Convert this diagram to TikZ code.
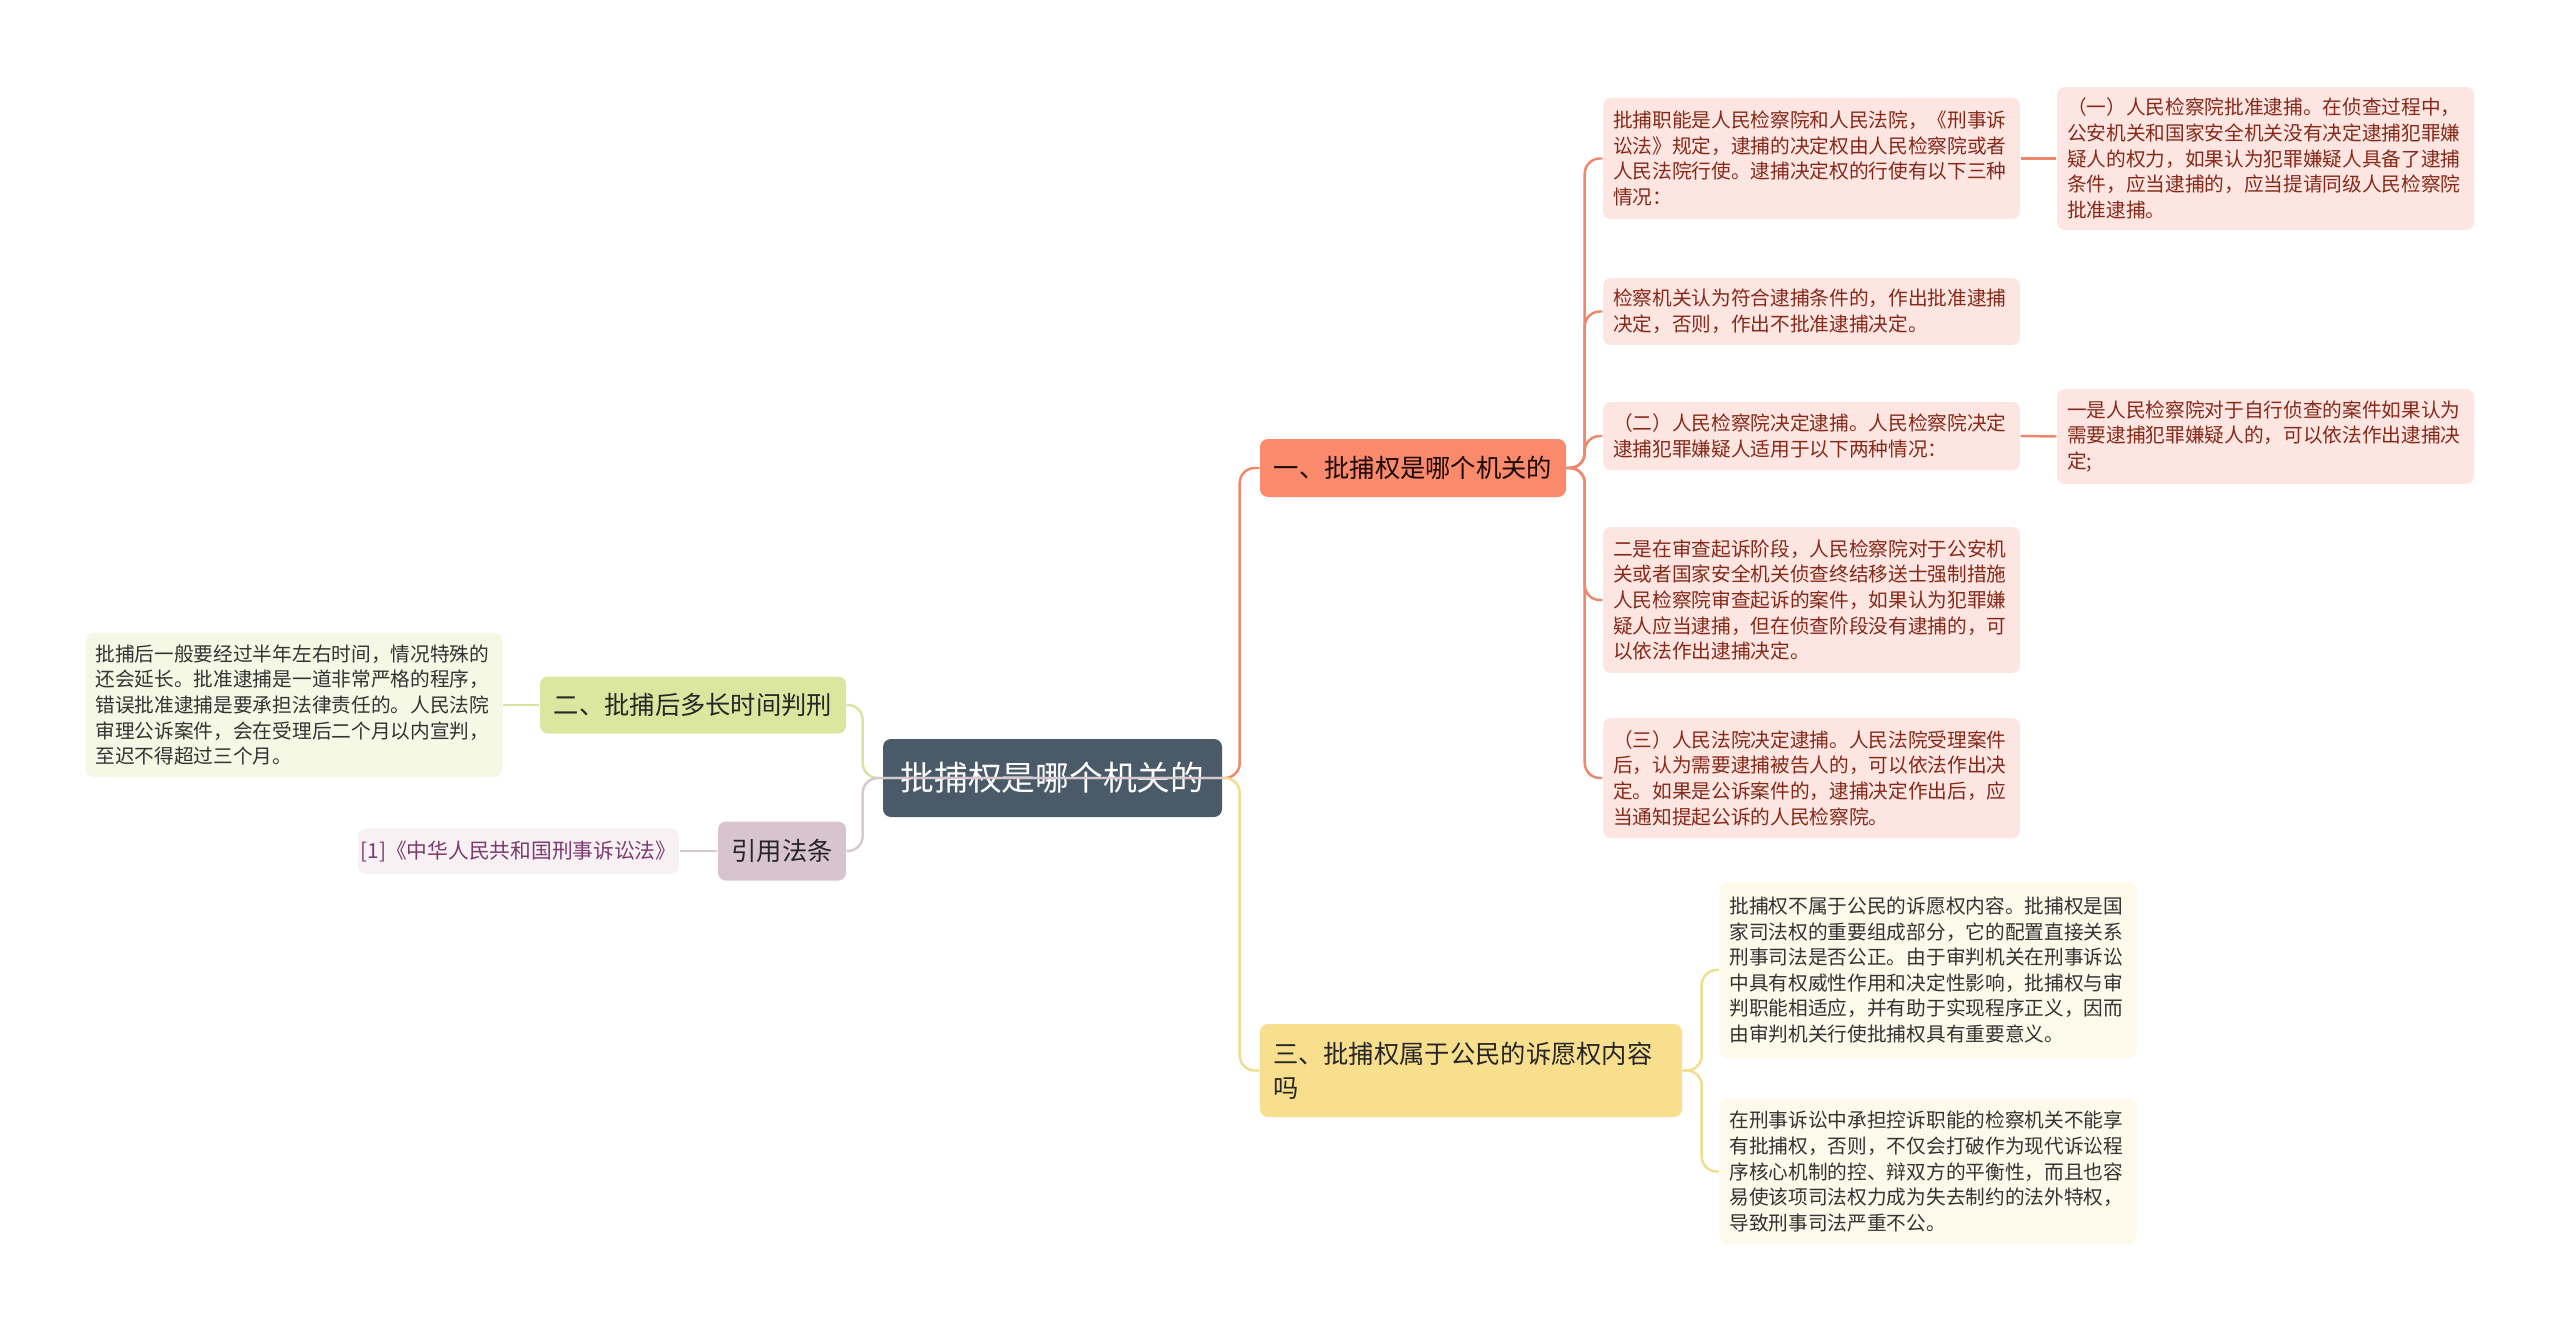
\documentclass[tikz,border=0pt]{standalone}
\usepackage{fontspec}
\setmainfont{Noto Sans CJK SC}
\usepackage{tikz}

\definecolor{rootc}{HTML}{4A5A69}
\definecolor{onec}{HTML}{FA8A6C}
\definecolor{onel}{HTML}{F0876B}
\definecolor{onef}{HTML}{FDE6E1}
\definecolor{onet}{HTML}{86291A}
\definecolor{twoc}{HTML}{DBE79E}
\definecolor{twol}{HTML}{D8E49E}
\definecolor{twof}{HTML}{F6F8E6}
\definecolor{thrc}{HTML}{F8DF8E}
\definecolor{thrl}{HTML}{F2DC8E}
\definecolor{thrf}{HTML}{FEF9EA}
\definecolor{fouc}{HTML}{D8C4CE}
\definecolor{foul}{HTML}{D7C7D0}
\definecolor{fouf}{HTML}{F8F1F4}
\definecolor{fout}{HTML}{7D3A6E}

\begin{document}
\begin{tikzpicture}[
    rootbox/.style={fill=rootc, rounded corners=0.8mm, text=white, font=\fontsize{9.6}{12}\selectfont,
                    minimum width=3.39cm, minimum height=0.78cm, inner sep=0pt},
    topic/.style={rounded corners=0.8mm, font=\fontsize{7.2}{9.8}\selectfont, text=black!85,
                  minimum height=0.58cm, inner sep=0pt},
    leaf/.style={rounded corners=0.8mm, font=\fontsize{5.6}{7.3}\selectfont, align=left,
                 text width=3.97cm, inner xsep=0.1cm, inner ysep=0pt},
    link/.style={line width=0.7pt, rounded corners=1.5mm}
  ]
  \fill[white] (0,0) rectangle (25.6,-13.31);
  \useasboundingbox (0,0) rectangle (25.6,-13.31);

  % centre and main topics
  \node[rootbox] (root) at (10.525,-7.78) {批捕权是哪个机关的};
  \node[topic, fill=onec, text=black!80!onet, minimum width=3.06cm] (one) at (14.13,-4.68) {一、批捕权是哪个机关的};
  \node[topic, fill=thrc, align=left, text width=3.96cm, inner xsep=0.13cm, minimum height=0.93cm] (three) at (14.71,-10.705)
       {三、批捕权属于公民的诉愿权内容\\吗};
  \node[topic, fill=twoc, minimum width=3.06cm, minimum height=0.57cm] (two) at (6.93,-7.05) {二、批捕后多长时间判刑};
  \node[topic, fill=fouc, minimum width=1.28cm, minimum height=0.59cm] (four) at (7.82,-8.51) {引用法条};

  % leaves of topic one
  \node[leaf, fill=onef, text=onet, minimum height=1.21cm] (oneA) at (18.115,-1.585)
       {批捕职能是人民检察院和人民法院，《刑事诉\\讼法》规定，逮捕的决定权由人民检察院或者\\人民法院行使。逮捕决定权的行使有以下三种\\情况：};
  \node[leaf, fill=onef, text=onet, minimum height=1.43cm] (oneAa) at (22.655,-1.585)
       {（一）人民检察院批准逮捕。在侦查过程中，\\公安机关和国家安全机关没有决定逮捕犯罪嫌\\疑人的权力，如果认为犯罪嫌疑人具备了逮捕\\条件，应当逮捕的，应当提请同级人民检察院\\批准逮捕。};
  \node[leaf, fill=onef, text=onet, minimum height=0.67cm] (oneB) at (18.115,-3.115)
       {检察机关认为符合逮捕条件的，作出批准逮捕\\决定，否则，作出不批准逮捕决定。};
  \node[leaf, fill=onef, text=onet, minimum height=0.68cm] (oneC) at (18.115,-4.36)
       {（二）人民检察院决定逮捕。人民检察院决定\\逮捕犯罪嫌疑人适用于以下两种情况：};
  \node[leaf, fill=onef, text=onet, minimum height=0.95cm] (oneCa) at (22.655,-4.365)
       {一是人民检察院对于自行侦查的案件如果认为\\需要逮捕犯罪嫌疑人的，可以依法作出逮捕决\\定;};
  \node[leaf, fill=onef, text=onet, minimum height=1.46cm] (oneD) at (18.115,-6.00)
       {二是在审查起诉阶段，人民检察院对于公安机\\关或者国家安全机关侦查终结移送士强制措施\\人民检察院审查起诉的案件，如果认为犯罪嫌\\疑人应当逮捕，但在侦查阶段没有逮捕的，可\\以依法作出逮捕决定。};
  \node[leaf, fill=onef, text=onet, minimum height=1.20cm] (oneE) at (18.115,-7.78)
       {（三）人民法院决定逮捕。人民法院受理案件\\后，认为需要逮捕被告人的，可以依法作出决\\定。如果是公诉案件的，逮捕决定作出后，应\\当通知提起公诉的人民检察院。};

  % leaves of topic three
  \node[leaf, fill=thrf, text=black!80, minimum height=1.76cm] (thrA) at (19.28,-9.70)
       {批捕权不属于公民的诉愿权内容。批捕权是国\\家司法权的重要组成部分，它的配置直接关系\\刑事司法是否公正。由于审判机关在刑事诉讼\\中具有权威性作用和决定性影响，批捕权与审\\判职能相适应，并有助于实现程序正义，因而\\由审判机关行使批捕权具有重要意义。};
  \node[leaf, fill=thrf, text=black!80, minimum height=1.45cm] (thrB) at (19.28,-11.715)
       {在刑事诉讼中承担控诉职能的检察机关不能享\\有批捕权，否则，不仅会打破作为现代诉讼程\\序核心机制的控、辩双方的平衡性，而且也容\\易使该项司法权力成为失去制约的法外特权，\\导致刑事司法严重不公。};

  % leaves on the left
  \node[leaf, fill=twof, text=black!80, minimum height=1.44cm] (twoA) at (2.94,-7.05)
       {批捕后一般要经过半年左右时间，情况特殊的\\还会延长。批准逮捕是一道非常严格的程序，\\错误批准逮捕是要承担法律责任的。人民法院\\审理公诉案件，会在受理后二个月以内宣判，\\至迟不得超过三个月。};
  \node[rounded corners=0.8mm, fill=fouf, text=fout, font=\fontsize{5.9}{7.3}\selectfont,
        minimum width=3.21cm, minimum height=0.45cm, inner sep=0pt] (fourA) at (5.185,-8.51)
       {[1]《中华人民共和国刑事诉讼法》};

  % connectors
  \draw[link, onel] (root.east) -- ++(0.17,0) |- (one.west);
  \draw[link, thrl] (root.east) -- ++(0.17,0) |- (three.west);
  \foreach \n in {oneA,oneB,oneC,oneD,oneE}
    \draw[link, onel] (one.east) -- ++(0.18,0) |- (\n.west);
  \draw[link, onel] (oneA.east) -- (oneAa.west);
  \draw[link, onel] (oneC.east) -- (oneCa.west);
  \foreach \n in {thrA,thrB}
    \draw[link, thrl] (three.east) -- ++(0.19,0) |- (\n.west);
  \draw[link, twol] (root.east) -- ++(-3.6,0) |- (two.east);
  \draw[link, foul] (root.east) -- ++(-3.6,0) |- (four.east);
  \draw[link, twol] (two.west) -- (twoA.east);
  \draw[link, foul] (four.west) -- (fourA.east);
\end{tikzpicture}
\end{document}
